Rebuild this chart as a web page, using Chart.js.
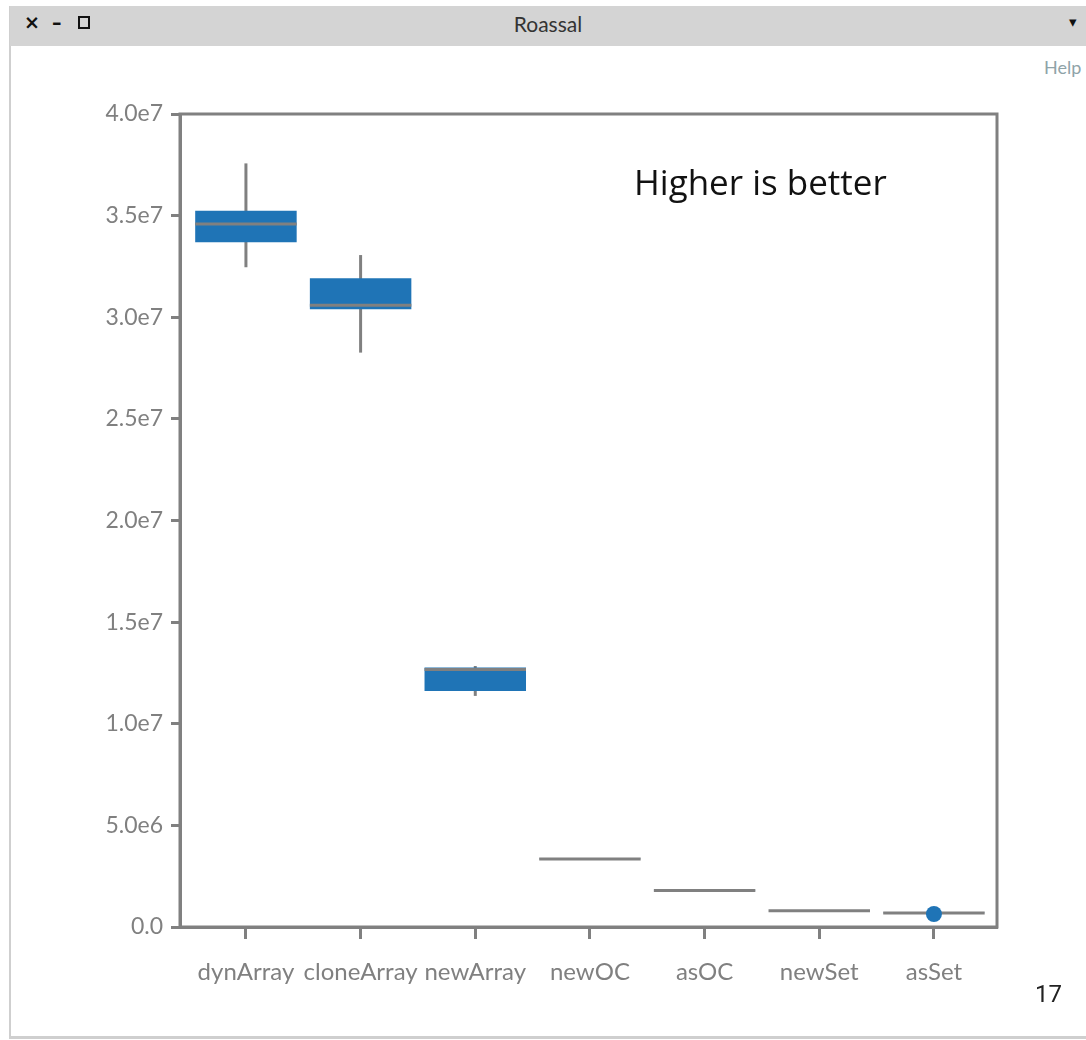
<!DOCTYPE html>
<html>
<head>
    <meta charset="UTF-8">
    <script src="https://cdn.jsdelivr.net/npm/chart.js"></script>
    <style>
        body { margin: 0; background: #fff; }
        #page { position: relative; width: 1086px; height: 1040px; overflow: hidden; }
        #win { position: absolute; left: 9px; top: 6px; width: 1090px; height: 1030px; border-left: 2px solid #cfcfcf; border-bottom: 3px solid #cfcfcf; background: #fff; }
        #bar { position: absolute; left: 10px; top: 6px; width: 1076px; height: 40px; background: #d4d4d4; }
        .t { position: absolute; white-space: nowrap; }
        canvas { position: absolute; left: 0; top: 0; }
    </style>
</head>
<body>
<div id="page">
    <div id="win"></div>
    <div id="bar"></div>
    <div class="t" style="left:24px;top:11px;font:bold 19px 'DejaVu Sans';color:#111">×</div>
    <div class="t" style="left:52px;top:11px;font:bold 19px 'DejaVu Sans';color:#111">–</div>
    <div class="t" style="left:78px;top:16px;width:8px;height:9px;border:2px solid #111"></div>
    <div class="t" style="left:0;width:1096px;text-align:center;top:11px;font:21px Lato;color:#333">Roassal</div>
    <div class="t" style="left:1069px;top:13px;font:15px 'DejaVu Sans';color:#111">▾</div>
    <div class="t" style="left:1044px;top:56px;font:18px Lato;color:#8fa3a8">Help</div>
    <canvas id="boxChart" width="1086" height="1040"></canvas>
    <div class="t" style="left:634px;top:158px;font:35px 'Open Sans';color:#111">Higher is better</div>
    <div class="t" style="left:1035px;top:980px;font:24px Roboto;color:#222">17</div>
</div>

<script>
    const categories = ['dynArray', 'cloneArray', 'newArray', 'newOC', 'asOC', 'newSet', 'asSet'];
    const whiskerLow = [3.246e7, 2.826e7, 1.137e7, 3.33e6, 1.78e6, 7.9e5, 6.8e5];
    const q1 = [3.369e7, 3.039e7, 1.161e7, 3.34e6, 1.785e6, 7.95e5, 6.85e5];
    const median = [3.459e7, 3.059e7, 1.267e7, 3.35e6, 1.79e6, 8.0e5, 6.9e5];
    const q3 = [3.524e7, 3.192e7, 1.277e7, 3.36e6, 1.795e6, 8.05e5, 6.95e5];
    const whiskerHigh = [3.757e7, 3.306e7, 1.284e7, 3.37e6, 1.8e6, 8.1e5, 7.0e5];
    const outlierCat = [6];
    const outlierVal = [6.4e5];
    const yTicks = [0, 5e6, 1e7, 1.5e7, 2e7, 2.5e7, 3e7, 3.5e7, 4e7];
    const yTickLabels = ['0.0', '5.0e6', '1.0e7', '1.5e7', '2.0e7', '2.5e7', '3.0e7', '3.5e7', '4.0e7'];

    const gray = '#808080';
    const blue = '#1f74b6';

    const boxPlugin = {
        id: 'boxPlot',
        beforeDatasetsDraw(chart) {
            const a = chart.chartArea;
            const ctx = chart.ctx;
            ctx.save();
            ctx.strokeStyle = gray;
            ctx.lineWidth = 3;
            ctx.strokeRect(a.left, a.top, a.right - a.left, a.bottom - a.top);
            ctx.restore();
        },
        beforeDatasetDraw(chart, args) {
            if (args.index !== 0) return;
            const { ctx, scales: { x, y } } = chart;
            ctx.save();
            ctx.strokeStyle = gray;
            ctx.lineWidth = 3;
            categories.forEach((c, i) => {
                const px = x.getPixelForValue(i);
                ctx.beginPath();
                ctx.moveTo(px, y.getPixelForValue(whiskerLow[i]));
                ctx.lineTo(px, y.getPixelForValue(whiskerHigh[i]));
                ctx.stroke();
            });
            ctx.restore();
        },
        afterDatasetDraw(chart, args) {
            if (args.index !== 0) return;
            const { ctx, scales: { y } } = chart;
            const meta = chart.getDatasetMeta(0);
            ctx.save();
            ctx.strokeStyle = gray;
            ctx.lineWidth = 3;
            meta.data.forEach((bar, i) => {
                const py = y.getPixelForValue(median[i]);
                ctx.beginPath();
                ctx.moveTo(bar.x - bar.width / 2, py);
                ctx.lineTo(bar.x + bar.width / 2, py);
                ctx.stroke();
            });
            ctx.restore();
        }
    };

    new Chart(document.getElementById('boxChart'), {
        type: 'bar',
        data: {
            datasets: [{
                data: categories.map((c, i) => ({ x: i, y: [q1[i], q3[i]] })),
                backgroundColor: blue,
                borderWidth: 0,
                categoryPercentage: 1,
                barPercentage: 0.885,
                order: 2
            }, {
                type: 'scatter',
                data: outlierCat.map((c, i) => ({ x: c, y: outlierVal[i] })),
                backgroundColor: blue,
                borderWidth: 0,
                pointRadius: 8,
                order: 1
            }]
        },
        options: {
            responsive: false,
            animation: false,
            layout: { padding: { left: 0, top: 114, right: 89, bottom: 30 } },
            plugins: { legend: { display: false }, tooltip: { enabled: false } },
            scales: {
                x: {
                    type: 'linear',
                    min: -0.575,
                    max: 6.55,
                    offset: false,
                    afterBuildTicks: s => { s.ticks = categories.map((c, i) => ({ value: i })); },
                    afterFit: s => { s.height = 83; },
                    ticks: {
                        callback: v => categories[v],
                        autoSkip: false,
                        maxRotation: 0,
                        font: { family: 'Lato', size: 24 },
                        color: gray,
                        padding: 19
                    },
                    grid: { offset: false, drawOnChartArea: false, tickLength: 12, tickWidth: 3, tickColor: gray },
                    border: { display: true, color: gray, width: 3 }
                },
                y: {
                    min: 0,
                    max: 4e7,
                    afterBuildTicks: s => { s.ticks = yTicks.map(v => ({ value: v })); },
                    afterFit: s => { s.width = 180; },
                    ticks: {
                        callback: (v, i) => yTickLabels[i],
                        font: { family: 'Lato', size: 23 },
                        color: gray,
                        padding: 8
                    },
                    grid: { drawOnChartArea: false, tickLength: 9, tickWidth: 3, tickColor: gray },
                    border: { display: true, color: gray, width: 3 }
                }
            }
        },
        plugins: [boxPlugin]
    });
</script>
</body>
</html>
